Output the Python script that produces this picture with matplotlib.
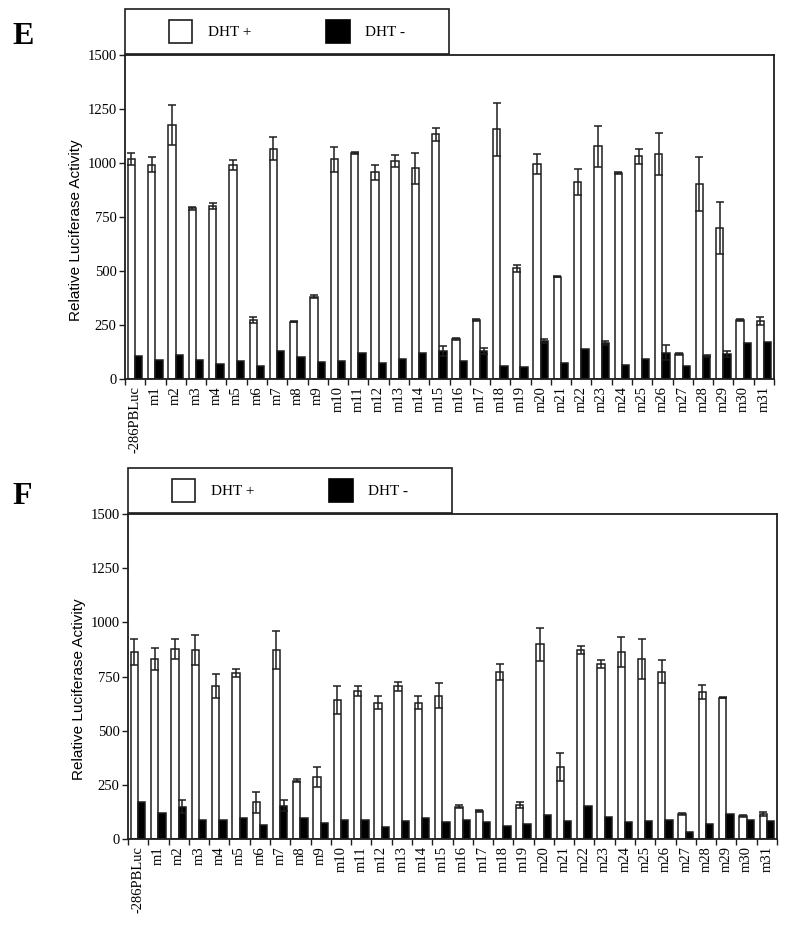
import matplotlib.pyplot as plt
import numpy as np
from matplotlib.patches import Rectangle

labels = ['-286PBLuc'] + ['m%d' % i for i in range(1, 32)]

# panel E
e_plus = [1018, 992, 1176, 790, 802, 991, 272, 1066, 265, 381,
          1017, 1046, 957, 1009, 975, 1133, 185, 273, 1156, 512,
          997, 474, 912, 1077, 954, 1031, 1042, 116, 903, 699, 273, 268]
e_plus_err = [28, 34, 94, 6, 14, 23, 14, 54, 3, 6,
              58, 4, 34, 28, 70, 30, 4, 3, 123, 18,
              46, 3, 59, 96, 6, 35, 98, 6, 123, 120, 5, 17]
e_minus = [108, 88, 111, 88, 69, 85, 62, 130, 100, 81,
           85, 120, 76, 91, 120, 130, 83, 130, 62, 57,
           176, 76, 139, 165, 66, 94, 122, 59, 108, 114, 165, 170]
e_minus_err = [0, 0, 0, 0, 0, 0, 0, 0, 0, 0,
               0, 0, 0, 0, 0, 23, 0, 13, 0, 0,
               8, 0, 0, 9, 0, 0, 34, 0, 5, 14, 0, 0]

# panel F
f_plus = [863, 831, 877, 873, 706, 767, 169, 872, 268, 286,
          643, 685, 630, 704, 629, 662, 149, 129, 772, 157,
          898, 333, 872, 808, 864, 831, 773, 117, 679, 653, 106, 115]
f_plus_err = [61, 49, 47, 69, 55, 18, 49, 89, 7, 45,
              65, 23, 28, 21, 29, 56, 6, 4, 36, 15,
              77, 65, 20, 20, 69, 93, 54, 5, 33, 3, 5, 8]
f_minus = [169, 118, 150, 86, 86, 95, 63, 153, 97, 74,
           88, 88, 54, 84, 95, 78, 86, 77, 61, 69,
           111, 84, 154, 100, 77, 84, 86, 32, 69, 115, 86, 84]
f_minus_err = [0, 0, 31, 0, 0, 0, 0, 25, 0, 0,
               0, 0, 0, 0, 0, 0, 0, 0, 0, 0,
               0, 0, 0, 0, 0, 0, 0, 0, 0, 0, 0, 0]

serif = 'Liberation Serif'
sans = 'Liberation Sans'
dark = '#1e1e1e'


def draw_panel(ax, plus, plus_err, minus, minus_err):
    x = np.arange(len(labels))
    w = 0.36
    ax.bar(x - w / 2, plus, w, color='white', edgecolor=dark, linewidth=1.1, zorder=2)
    ax.bar(x + w / 2, minus, w, color='black', edgecolor=dark, linewidth=1.1, zorder=2)
    ax.errorbar(x - w / 2, plus, yerr=plus_err, fmt='none', ecolor=dark,
                elinewidth=1.1, capsize=2.9, capthick=1.1, zorder=3)
    idx = [i for i in range(len(minus)) if minus_err[i] > 0]
    ax.errorbar(x[idx] + w / 2, np.array(minus)[idx], yerr=np.array(minus_err)[idx],
                fmt='none', ecolor=dark, elinewidth=1.1, capsize=2.9, capthick=1.1, zorder=3)

    ax.set_xlim(-0.5, len(labels) - 0.5)
    ax.set_ylim(0, 1500)
    ax.set_yticks([0, 250, 500, 750, 1000, 1250, 1500])
    ax.set_xticks(x)
    ax.set_xticklabels(labels, rotation=90, fontfamily=serif, fontsize=10.5)
    ax.set_xticks(np.arange(-0.5, len(labels), 1.0), minor=True)
    ax.tick_params(axis='x', which='major', length=0, pad=5)
    ax.tick_params(axis='x', which='minor', length=4, width=1.0, color=dark)
    ax.tick_params(axis='y', length=4, width=1.0, color=dark, pad=2)
    for t in ax.get_yticklabels():
        t.set_fontfamily(serif)
        t.set_fontsize(10.5)
    for s in ax.spines.values():
        s.set_color(dark)
        s.set_linewidth(1.3)
    ax.set_ylabel('Relative Luciferase Activity', fontfamily=sans, fontsize=11)
    ax.yaxis.set_label_coords(-0.064, 0.46)


def draw_legend(fig, left, top, letter):
    W, H = 800.0, 932.0
    box = Rectangle((left / W, 1 - (top + 45) / H), 324 / W, 45 / H,
                    transform=fig.transFigure, facecolor='white', edgecolor=dark,
                    linewidth=1.2)
    fig.add_artist(box)
    sq_y = 1 - (top + 34) / H
    fig.add_artist(Rectangle(((left + 44) / W, sq_y), 23 / W, 23 / H,
                             transform=fig.transFigure, facecolor='white',
                             edgecolor=dark, linewidth=1.2))
    fig.add_artist(Rectangle(((left + 201) / W, sq_y), 24 / W, 23 / H,
                             transform=fig.transFigure, facecolor='black',
                             edgecolor='black', linewidth=1.2))
    ty = 1 - (top + 23) / H
    fig.text((left + 83) / W, ty, 'DHT +', fontfamily=serif, fontsize=11, va='center')
    fig.text((left + 240) / W, ty, 'DHT -', fontfamily=serif, fontsize=11, va='center')
    fig.text(12 / W, 1 - (top + 28) / H, letter, fontfamily=serif, fontsize=23,
             fontweight='bold', va='center')


fig = plt.figure(figsize=(8.0, 9.32), dpi=100)
axE = fig.add_axes([125 / 800, 553 / 932, 649 / 800, 324 / 932])
axF = fig.add_axes([128 / 800, 93 / 932, 649 / 800, 325 / 932])

draw_panel(axE, e_plus, e_plus_err, e_minus, e_minus_err)
draw_panel(axF, f_plus, f_plus_err, f_minus, f_minus_err)

draw_legend(fig, 125, 9, 'E')
draw_legend(fig, 128, 468, 'F')

fig.savefig('out.png', dpi=100)
